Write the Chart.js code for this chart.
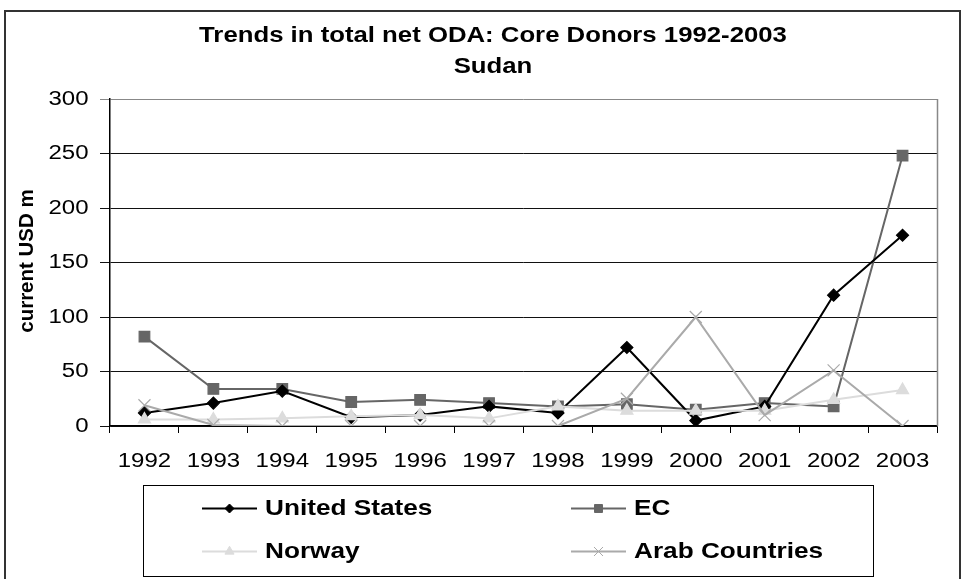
<!DOCTYPE html>
<html>
<head>
<meta charset="utf-8">
<script src="https://cdn.jsdelivr.net/npm/chart.js@4.4.1/dist/chart.umd.min.js"></script>
<style>
  html, body { margin: 0; padding: 0; background: #fff; }
  #wrap { width: 964px; height: 579px; }
</style>
</head>
<body>
<div id="wrap"><canvas id="oda" width="964" height="579"></canvas></div>
<script>
// Net ODA to Sudan, current USD m
const years = ['1992', '1993', '1994', '1995', '1996', '1997', '1998', '1999', '2000', '2001', '2002', '2003'];
const unitedStates = [12, 21, 32, 8, 10, 18, 12, 72, 5, 18, 120, 175];
const ec = [82, 34, 34, 22, 24, 21, 18, 20, 15, 21, 18, 248];
const norway = [6, 6, 7, 9, 10, 7, 18, 14, 14, 14, 24, 33];
const arabCountries = [19, 1, 0, 0, 0, 0, 0, 25, 100, 10, 51, 0];

const titleLines = ['Trends in total net ODA: Core Donors 1992-2003', 'Sudan'];
const yAxisTitle = 'current USD m';
const yMin = 0, yMax = 300, yStep = 50;

const FONT = "'Liberation Sans', Arial, sans-serif";

function series(label, data, color, style, radius, order) {
  return {
    label, data,
    borderColor: color, backgroundColor: color,
    pointBackgroundColor: color, pointBorderColor: color,
    borderWidth: 2, pointStyle: style, pointRadius: radius,
    pointBorderWidth: 1.2, tension: 0, order
  };
}

// text drawn with a slightly widened face
function wideText(ctx, text, x, y, align, baseline, sx) {
  ctx.save();
  ctx.translate(x, y);
  ctx.scale(sx, 1);
  ctx.textAlign = align;
  ctx.textBaseline = baseline;
  ctx.fillText(text, 0, 0);
  ctx.restore();
}

// Tick labels, titles, frame and the boxed legend
const decorations = {
  id: 'decorations',
  beforeDraw(chart) {
    const ctx = chart.ctx;
    ctx.save();
    ctx.fillStyle = '#fff';
    ctx.fillRect(0, 0, chart.width, chart.height);
    ctx.restore();
  },
  afterDraw(chart) {
    const ctx = chart.ctx;
    const area = chart.chartArea;
    const xs = chart.scales.x, ys = chart.scales.y;
    ctx.save();

    // right edge of the plot area
    ctx.strokeStyle = '#888';
    ctx.lineWidth = 1.5;
    ctx.beginPath();
    ctx.moveTo(Math.round(area.right) + 0.5, area.top);
    ctx.lineTo(Math.round(area.right) + 0.5, area.bottom);
    ctx.stroke();

    // outer frame
    ctx.strokeStyle = '#333';
    ctx.lineWidth = 2;
    ctx.beginPath();
    ctx.moveTo(5, 585);
    ctx.lineTo(5, 11);
    ctx.lineTo(960, 11);
    ctx.lineTo(960, 585);
    ctx.stroke();

    ctx.fillStyle = '#000';

    // category labels
    ctx.font = '20px ' + FONT;
    xs.ticks.forEach((t, i) => {
      wideText(ctx, xs.getLabelForValue(t.value), xs.getPixelForTick(i), 466.5, 'center', 'alphabetic', 1.2);
    });
    // value labels
    ys.ticks.forEach((t) => {
      wideText(ctx, String(t.value), 88.5, ys.getPixelForValue(t.value), 'right', 'middle', 1.2);
    });

    // chart title
    ctx.font = 'bold 22px ' + FONT;
    wideText(ctx, titleLines[0], 493, 42, 'center', 'alphabetic', 1.17);
    wideText(ctx, titleLines[1], 493, 73, 'center', 'alphabetic', 1.17);

    // y axis title
    ctx.save();
    ctx.translate(27, 261);
    ctx.rotate(-Math.PI / 2);
    ctx.textAlign = 'center';
    ctx.textBaseline = 'middle';
    ctx.font = 'bold 20.5px ' + FONT;
    ctx.fillText(yAxisTitle, 0, 0);
    ctx.restore();

    // legend box
    ctx.strokeStyle = '#000';
    ctx.lineWidth = 1;
    ctx.strokeRect(143.5, 485.5, 730, 91);

    const cols = [202, 571];
    const rows = [508.5, 551.5];
    chart.data.datasets.forEach((ds, i) => {
      const x0 = cols[i % 2];
      const y = rows[Math.floor(i / 2)];
      ctx.strokeStyle = ds.borderColor;
      ctx.lineWidth = 2;
      ctx.beginPath();
      ctx.moveTo(x0, y);
      ctx.lineTo(x0 + 55, y);
      ctx.stroke();
      ctx.fillStyle = ds.pointBackgroundColor;
      ctx.strokeStyle = ds.pointBorderColor;
      ctx.lineWidth = 1;
      Chart.helpers.drawPoint(ctx, {
        pointStyle: ds.pointStyle, radius: ds.pointRadius * 0.75, rotation: 0, borderWidth: 1
      }, x0 + 27.5, y);
      ctx.fillStyle = '#000';
      ctx.font = 'bold 22px ' + FONT;
      wideText(ctx, ds.label, x0 + 63, y, 'left', 'middle', 1.19);
    });

    ctx.restore();
  }
};

Chart.defaults.color = '#000';
Chart.defaults.font.family = FONT;

new Chart(document.getElementById('oda'), {
  type: 'line',
  data: {
    labels: years,
    datasets: [
      series('United States', unitedStates, '#000000', 'rectRot', 6, 3),
      series('EC', ec, '#666666', 'rect', 7.5, 4),
      series('Norway', norway, '#dcdcdc', 'triangle', 7, 2),
      series('Arab Countries', arabCountries, '#aaaaaa', 'crossRot', 8.5, 1)
    ]
  },
  options: {
    responsive: false,
    animation: false,
    events: [],
    layout: { padding: { left: 0, top: 99, right: 27, bottom: 0 } },
    plugins: { legend: { display: false }, title: { display: false }, tooltip: { enabled: false } },
    scales: {
      x: {
        type: 'category',
        offset: true,
        afterFit(scale) { scale.height = 153; },
        grid: {
          offset: true, drawOnChartArea: false, drawTicks: true,
          tickLength: 7, color: '#000', lineWidth: 1
        },
        border: { color: '#000', width: 1.5 },
        ticks: { display: false, autoSkip: false, maxRotation: 0 }
      },
      y: {
        min: yMin, max: yMax,
        afterFit(scale) { scale.width = 110; },
        grid: {
          color: (c) => (c.tick && c.tick.value === yMax ? '#888' : '#111'),
          lineWidth: 1, tickLength: 10, drawTicks: true
        },
        border: { color: '#000', width: 1.5 },
        ticks: { display: false, stepSize: yStep }
      }
    }
  },
  plugins: [decorations]
});
</script>
</body>
</html>
